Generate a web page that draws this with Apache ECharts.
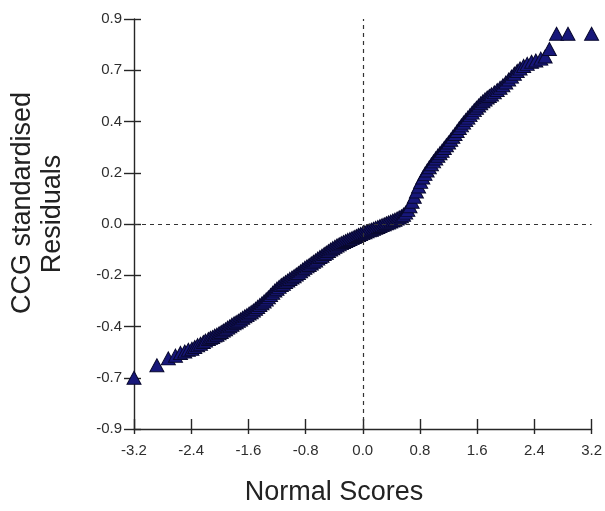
<!DOCTYPE html>
<html>
<head>
<meta charset="utf-8">
<script src="https://cdn.jsdelivr.net/npm/echarts@6/dist/echarts.min.js"></script>
<style>html,body{margin:0;padding:0;background:#fff;}#c{width:605px;height:511px;}</style>
</head>
<body>
<div id="c"></div>
<script>
// Normal scores (x) and standardised residuals (y)
var normalScores = [
-3.20,-2.88,-2.72,-2.62,-2.55,-2.49,-2.44,-2.39,-2.35,-2.31,-2.27,-2.23,-2.20,-2.16,-2.13,-2.10,-2.07,-2.04,-2.01,-1.98,
-1.95,-1.92,-1.89,-1.86,-1.83,-1.80,-1.77,-1.74,-1.71,-1.68,-1.65,-1.62,-1.59,-1.56,-1.53,-1.50,-1.47,-1.44,-1.41,-1.38,
-1.35,-1.32,-1.29,-1.26,-1.23,-1.20,-1.17,-1.14,-1.11,-1.08,-1.05,-1.02,-0.99,-0.96,-0.93,-0.90,-0.87,-0.84,-0.81,-0.78,
-0.75,-0.72,-0.69,-0.66,-0.63,-0.60,-0.57,-0.54,-0.51,-0.48,-0.45,-0.42,-0.39,-0.36,-0.33,-0.30,-0.27,-0.24,-0.21,-0.18,
-0.15,-0.12,-0.09,-0.06,-0.03,0.00,0.03,0.06,0.09,0.12,0.15,0.18,0.21,0.24,0.27,0.30,0.33,0.36,0.39,0.42,
0.45,0.48,0.51,0.54,0.57,0.60,0.63,0.66,0.69,0.72,0.75,0.78,0.81,0.84,0.87,0.90,0.93,0.96,0.99,1.02,
1.05,1.08,1.11,1.14,1.17,1.20,1.23,1.26,1.29,1.32,1.35,1.38,1.41,1.44,1.47,1.50,1.53,1.56,1.59,1.62,
1.65,1.68,1.71,1.74,1.77,1.80,1.84,1.88,1.92,1.96,2.00,2.04,2.08,2.12,2.16,2.20,2.25,2.30,2.36,2.42,
2.49,2.55,2.61,2.71,2.87,3.20
];
var residuals = [
-0.675,-0.620,-0.590,-0.578,-0.566,-0.560,-0.552,-0.548,-0.540,-0.532,-0.526,-0.518,-0.512,-0.505,-0.500,-0.496,-0.490,-0.486,-0.480,-0.474,
-0.468,-0.462,-0.455,-0.449,-0.442,-0.436,-0.431,-0.425,-0.419,-0.412,-0.405,-0.400,-0.393,-0.387,-0.380,-0.372,-0.364,-0.356,-0.348,-0.340,
-0.331,-0.322,-0.312,-0.302,-0.292,-0.284,-0.276,-0.268,-0.262,-0.255,-0.248,-0.241,-0.235,-0.229,-0.222,-0.215,-0.208,-0.200,-0.192,-0.186,
-0.180,-0.173,-0.166,-0.160,-0.152,-0.145,-0.139,-0.132,-0.126,-0.119,-0.112,-0.106,-0.100,-0.094,-0.089,-0.084,-0.079,-0.075,-0.070,-0.066,
-0.062,-0.057,-0.053,-0.048,-0.044,-0.040,-0.036,-0.032,-0.028,-0.025,-0.021,-0.017,-0.013,-0.009,-0.005,-0.001,0.003,0.007,0.011,0.015,
0.019,0.024,0.029,0.034,0.041,0.050,0.062,0.078,0.098,0.120,0.143,0.165,0.185,0.204,0.220,0.235,0.249,0.262,0.275,0.288,
0.300,0.311,0.322,0.334,0.346,0.358,0.370,0.383,0.395,0.408,0.421,0.433,0.445,0.456,0.467,0.478,0.489,0.500,0.510,0.520,
0.530,0.539,0.547,0.555,0.562,0.569,0.578,0.588,0.598,0.609,0.621,0.634,0.647,0.660,0.672,0.683,0.694,0.703,0.712,0.718,
0.726,0.735,0.768,0.835,0.835,0.835
];
var yTickLabels = ['-0.9','-0.7','-0.4','-0.2','0.0','0.2','0.4','0.7','0.9'];
var yMin = -0.9, yMax = 0.9, yStep = 0.225;
var xMin = -3.2, xMax = 3.2, xStep = 0.8;
var xTitle = 'Normal Scores';
var yTitle1 = 'CCG standardised';
var yTitle2 = 'Residuals';

var points = normalScores.map(function (x, i) { return [x, residuals[i]]; });
var FONT = '"Liberation Sans", Arial, sans-serif';
var AX = '#262626';

function xFmt(v) { if (Math.abs(v) < 1e-9) v = 0; return v.toFixed(1); }
function yFmt(v) { var i = Math.round((v - yMin) / yStep); return yTickLabels[i] || ''; }

var chart = echarts.init(document.getElementById('c'), null, { renderer: 'canvas' });
chart.setOption({
  animation: false,
  backgroundColor: '#ffffff',
  grid: { left: 134, right: 12, top: 19, bottom: 82, containLabel: false },
  xAxis: [{
    type: 'value', min: xMin, max: xMax, interval: xStep, position: 'bottom',
    axisLine: { show: true, onZero: false, lineStyle: { color: AX, width: 1.4 } },
    axisTick: { show: true, inside: true, length: 10, lineStyle: { color: AX, width: 1.4 } },
    axisLabel: { formatter: xFmt, color: '#2e2e2e', fontSize: 15, fontFamily: FONT, margin: 14 },
    splitLine: { show: false }
  }, {
    type: 'value', min: xMin, max: xMax, interval: xStep, position: 'bottom',
    axisLine: { show: false, onZero: false },
    axisTick: { show: true, inside: false, length: 5, lineStyle: { color: AX, width: 1.4 } },
    axisLabel: { show: false }, splitLine: { show: false }
  }],
  yAxis: [{
    type: 'value', min: yMin, max: yMax, interval: yStep, position: 'left',
    axisLine: { show: true, onZero: false, lineStyle: { color: AX, width: 1.4 } },
    axisTick: { show: true, inside: false, length: 10, lineStyle: { color: AX, width: 1.4 } },
    axisLabel: { formatter: yFmt, color: '#2e2e2e', fontSize: 15, fontFamily: FONT, margin: 12 },
    splitLine: { show: false }
  }, {
    type: 'value', min: yMin, max: yMax, interval: yStep, position: 'left',
    axisLine: { show: false, onZero: false },
    axisTick: { show: true, inside: true, length: 7, lineStyle: { color: AX, width: 1.4 } },
    axisLabel: { show: false }, splitLine: { show: false }
  }],
  series: [{
    type: 'line', data: [], z: 1, silent: true,
    markLine: {
      silent: true, symbol: 'none', label: { show: false },
      lineStyle: { color: '#333', width: 1.2, type: [4, 4] },
      data: [{ xAxis: 0 }, { yAxis: 0 }]
    }
  }, {
    type: 'scatter', z: 3, data: points,
    symbol: 'triangle', symbolSize: [14, 13],
    itemStyle: { color: '#17177a', borderColor: '#08082e', borderWidth: 1, opacity: 1 }
  }],
  graphic: [
    { type: 'text', x: 334, y: 493,
      style: { text: xTitle, font: '27px ' + FONT, fill: '#222', textAlign: 'center', textVerticalAlign: 'middle' } },
    { type: 'text', x: 23, y: 203, rotation: Math.PI / 2,
      style: { text: yTitle1, font: '27px ' + FONT, fill: '#222', textAlign: 'center', textVerticalAlign: 'middle' } },
    { type: 'text', x: 53, y: 214, rotation: Math.PI / 2,
      style: { text: yTitle2, font: '27px ' + FONT, fill: '#222', textAlign: 'center', textVerticalAlign: 'middle' } }
  ]
});
</script>
</body>
</html>
